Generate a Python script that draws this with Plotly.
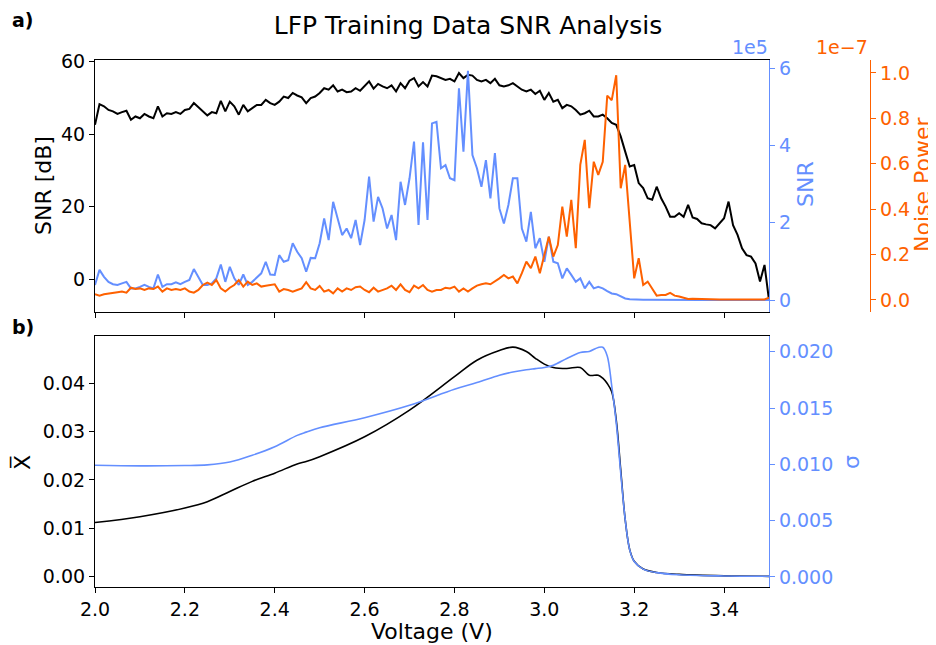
import plotly.graph_objects as go

# ---------------------------------------------------------------
# Datos
# ---------------------------------------------------------------

# Panel a): malla de voltaje (paso de 0.01 V)
voltaje = [round(2.0 + 0.01 * i, 2) for i in range(151)]

# SNR en dB (eje izquierdo)
snr_db = [
    42.6, 48.3, 47.7, 46.7, 46.3, 45.6, 46.1, 46.5, 44.0, 44.9,
    44.4, 45.6, 44.9, 44.4, 47.7, 44.9, 45.8, 45.6, 46.1, 45.6,
    46.7, 47.0, 48.6, 47.4, 46.3, 45.2, 46.1, 45.8, 49.2, 46.3,
    49.0, 47.7, 45.4, 48.1, 46.3, 47.2, 48.1, 48.1, 49.5, 48.6,
    48.1, 49.0, 50.4, 50.0, 51.4, 50.7, 50.2, 48.6, 50.0, 50.4,
    51.4, 52.7, 52.3, 53.5, 51.8, 52.3, 51.6, 51.8, 52.7, 52.0,
    53.2, 54.6, 52.6, 53.9, 53.2, 52.7, 53.5, 51.8, 54.1, 52.7,
    54.8, 55.5, 53.2, 54.4, 53.2, 56.2, 56.0, 55.5, 55.0, 55.3,
    54.6, 56.9, 55.5, 56.4, 56.2, 55.0, 54.6, 55.0, 54.1, 55.3,
    53.5, 53.2, 53.5, 54.1, 53.2, 52.3, 51.8, 52.3, 51.1, 52.0,
    49.5, 51.4, 49.0, 49.5, 47.2, 48.1, 47.7, 46.7, 45.4, 45.8,
    46.5, 44.9, 44.9, 45.4, 44.4, 43.1, 42.6, 39.4, 35.2, 31.1,
    31.5, 26.5, 25.1, 22.3, 21.9, 25.5, 22.3, 20.0, 17.2, 17.2,
    18.2, 17.2, 20.5, 17.0, 16.6, 15.4, 15.1, 14.9, 14.0, 15.4,
    16.8, 21.4, 14.9, 12.2, 8.5, 6.6, 6.2, 4.3, -0.7, 3.9, -5.8,
]

# SNR lineal, en unidades de 1e5 (eje derecho azul)
snr_lineal = [
    0.39, 0.78, 0.60, 0.47, 0.41, 0.39, 0.43, 0.47, 0.30, 0.30,
    0.34, 0.39, 0.34, 0.30, 0.66, 0.34, 0.41, 0.41, 0.46, 0.41,
    0.47, 0.52, 0.80, 0.60, 0.39, 0.39, 0.43, 0.56, 0.92, 0.47,
    0.86, 0.56, 0.39, 0.66, 0.39, 0.47, 0.58, 0.69, 0.99, 0.66,
    0.65, 1.16, 0.99, 1.03, 1.47, 1.25, 1.08, 0.73, 1.09, 1.08,
    1.47, 2.11, 1.55, 2.54, 2.11, 1.68, 1.85, 1.60, 2.07, 1.42,
    2.07, 3.19, 2.03, 2.67, 2.37, 1.85, 2.20, 1.55, 3.06, 2.46,
    3.15, 4.10, 1.94, 4.08, 2.07, 4.57, 4.61, 3.41, 3.49, 3.15,
    3.10, 5.48, 3.84, 5.93, 3.75, 3.41, 2.93, 3.62, 2.63, 3.80,
    2.37, 1.98, 2.46, 3.15, 3.15, 1.85, 1.51, 2.28, 1.34, 1.60,
    0.99, 1.64, 0.99, 0.95, 0.56, 0.82, 0.65, 0.47, 0.56, 0.30,
    0.47, 0.30, 0.34, 0.30, 0.23, 0.17, 0.15, 0.09, 0.04, 0.02,
    0.01, 0.01, 0.005, 0.005, 0.003, 0.003, 0.002, 0.002, 0.002, 0.002,
    0.002, 0.002, 0.002, 0.002, 0.002, 0.002, 0.002, 0.002, 0.002, 0.002,
    0.002, 0.002, 0.002, 0.002, 0.002, 0.002, 0.002, 0.002, 0.002, 0.002, 0.002,
]

# Potencia de ruido, en unidades de 1e-7 (tercer eje naranja)
potencia_ruido = [
    0.025, 0.019, 0.025, 0.029, 0.032, 0.034, 0.037, 0.032, 0.054, 0.048,
    0.051, 0.044, 0.051, 0.048, 0.059, 0.037, 0.051, 0.044, 0.048, 0.044,
    0.051, 0.037, 0.032, 0.044, 0.066, 0.076, 0.066, 0.088, 0.051, 0.037,
    0.054, 0.066, 0.088, 0.059, 0.081, 0.066, 0.073, 0.059, 0.063, 0.066,
    0.069, 0.037, 0.048, 0.044, 0.037, 0.044, 0.051, 0.078, 0.051, 0.044,
    0.062, 0.037, 0.044, 0.029, 0.051, 0.037, 0.051, 0.044, 0.056, 0.059,
    0.044, 0.034, 0.054, 0.037, 0.044, 0.051, 0.063, 0.044, 0.069, 0.044,
    0.034, 0.063, 0.051, 0.066, 0.044, 0.037, 0.044, 0.044, 0.054, 0.051,
    0.059, 0.037, 0.051, 0.037, 0.051, 0.063, 0.069, 0.073, 0.069, 0.081,
    0.095, 0.110, 0.095, 0.103, 0.073, 0.118, 0.169, 0.140, 0.191, 0.118,
    0.198, 0.279, 0.191, 0.242, 0.411, 0.279, 0.441, 0.228, 0.595, 0.705,
    0.404, 0.609, 0.551, 0.609, 0.900, 0.880, 0.990, 0.492, 0.595, 0.360,
    0.095, 0.184, 0.066, 0.081, 0.051, 0.019, 0.022, 0.022, 0.031, 0.019,
    0.015, 0.010, 0.004, 0.005, 0.004, 0.003, 0.003, 0.003, 0.002, 0.002,
    0.002, 0.002, 0.002, 0.002, 0.002, 0.002, 0.002, 0.002, 0.002, 0.002, 0.010,
]

# Panel b): media y desviacion estandar
voltaje_b = [
    2.0, 2.1, 2.2, 2.25, 2.3, 2.35, 2.4, 2.45, 2.47, 2.5, 2.6, 2.7, 2.8,
    2.85, 2.9, 2.93, 2.96, 2.98, 3.0, 3.02, 3.05, 3.08, 3.1, 3.12, 3.13,
    3.14, 3.15, 3.16, 3.17, 3.18, 3.19, 3.2, 3.22, 3.25, 3.3, 3.4, 3.5,
]
media_x = [
    0.0112, 0.0124, 0.0142, 0.0155, 0.0176, 0.0197, 0.0214, 0.0233, 0.0238,
    0.0248, 0.0289, 0.0344, 0.0413, 0.0447, 0.0467, 0.0474, 0.0465, 0.0451,
    0.0439, 0.0432, 0.0430, 0.0432, 0.0416, 0.0416, 0.0410, 0.0399, 0.0382,
    0.0324, 0.0221, 0.0118, 0.0056, 0.0032, 0.0016, 0.0009, 0.0005, 0.0002,
    0.0001,
]
sigma = [
    0.00992, 0.00986, 0.00989, 0.00995, 0.0102, 0.0108, 0.01156, 0.01257,
    0.01286, 0.01325, 0.01414, 0.01524, 0.01667, 0.01726, 0.01791, 0.0182,
    0.0184, 0.0185, 0.0186, 0.0188, 0.0194, 0.01994, 0.02003, 0.02038,
    0.0204, 0.01963, 0.01696, 0.0137, 0.00924, 0.00508, 0.0024, 0.00136,
    0.00069, 0.00038, 0.00019, 0.00008, 0.00005,
]

ticks_voltaje = [2.0, 2.2, 2.4, 2.6, 2.8, 3.0, 3.2, 3.4]

# ---------------------------------------------------------------
# Estilo
# ---------------------------------------------------------------
AZUL = '#648FFF'
NARANJA = '#FE6100'
FUENTE = 'DejaVu Sans'
# la pagina deja 8 px de margen en el body, asi que la figura se achica
MARGEN_PAGINA = 8
ANCHO, ALTO = 936 - MARGEN_PAGINA, 645 - MARGEN_PAGINA


def fx(p):
    """Pixel horizontal de la ventana -> fraccion del papel."""
    return (p - MARGEN_PAGINA) / ANCHO


def fy(p):
    """Pixel vertical de la ventana (desde arriba) -> fraccion del papel."""
    return 1 - (p - MARGEN_PAGINA) / ALTO


dominio_x = [fx(95), fx(769)]
dominio_a = [fy(312), fy(60)]
dominio_b = [fy(587), fy(336)]

eje_comun = dict(
    showgrid=False, zeroline=False, showline=True, linewidth=1.2,
    ticks='outside', ticklen=5, tickwidth=1.2, automargin=False,
    tickfont=dict(family=FUENTE, size=19),
)

fig = go.Figure()

# Panel a)
fig.add_trace(go.Scatter(x=voltaje, y=snr_db, mode='lines',
                         line=dict(color='black', width=2), xaxis='x', yaxis='y'))
fig.add_trace(go.Scatter(x=voltaje, y=snr_lineal, mode='lines',
                         line=dict(color=AZUL, width=2), xaxis='x', yaxis='y2'))
fig.add_trace(go.Scatter(x=voltaje, y=potencia_ruido, mode='lines',
                         line=dict(color=NARANJA, width=2), xaxis='x', yaxis='y3'))

# Panel b)
fig.add_trace(go.Scatter(x=voltaje_b, y=media_x, mode='lines', line_shape='spline',
                         line=dict(color='black', width=1.6), xaxis='x2', yaxis='y4'))
fig.add_trace(go.Scatter(x=voltaje_b, y=sigma, mode='lines', line_shape='spline',
                         line=dict(color=AZUL, width=1.6), xaxis='x2', yaxis='y5'))

fig.update_layout(
    template='none',
    width=ANCHO, height=ALTO,
    margin=dict(l=0, r=0, t=0, b=0),
    paper_bgcolor='white', plot_bgcolor='white',
    showlegend=False,
    font=dict(family=FUENTE, color='black'),
    title=dict(text='LFP Training Data SNR Analysis', x=fx(468), xanchor='center',
               y=fy(25), yanchor='middle', font=dict(family=FUENTE, size=25)),
    xaxis=dict(domain=dominio_x, anchor='y', range=[2.0, 3.5], tickvals=ticks_voltaje,
               showticklabels=False, mirror=True, linecolor='black', tickcolor='black',
               **eje_comun),
    yaxis=dict(domain=dominio_a, anchor='x', range=[-9.1, 60.5], tickvals=[0, 20, 40, 60],
               linecolor='black', tickcolor='black', **eje_comun),
    yaxis2=dict(overlaying='y', side='right', anchor='x', range=[-0.31, 6.21],
                tickvals=[0, 2, 4, 6], color=AZUL, linecolor=AZUL, tickcolor=AZUL,
                **eje_comun),
    yaxis3=dict(overlaying='y', side='right', anchor='free', position=fx(870),
                range=[-0.053, 1.057], tickvals=[0, 0.2, 0.4, 0.6, 0.8, 1.0],
                tickformat='.1f', color=NARANJA, linecolor=NARANJA, tickcolor=NARANJA,
                **eje_comun),
    xaxis2=dict(domain=dominio_x, anchor='y4', range=[2.0, 3.5], tickvals=ticks_voltaje,
                tickformat='.1f', mirror=True, linecolor='black', tickcolor='black',
                **eje_comun),
    yaxis4=dict(domain=dominio_b, anchor='x2', range=[-0.0021, 0.0497],
                tickvals=[0, 0.01, 0.02, 0.03, 0.04], tickformat='.2f',
                linecolor='black', tickcolor='black', **eje_comun),
    yaxis5=dict(overlaying='y4', side='right', anchor='x2', range=[-0.0009, 0.0214],
                tickvals=[0, 0.005, 0.01, 0.015, 0.02], tickformat='.3f',
                color=AZUL, linecolor=AZUL, tickcolor=AZUL, **eje_comun),
)

# Titulos de ejes, etiquetas de panel y factores de escala como anotaciones
anotaciones = [
    dict(text='SNR [dB]', x=fx(43), y=fy(186), textangle=-90, size=22, color='black'),
    dict(text='SNR', x=fx(805), y=fy(184), textangle=-90, size=22, color=AZUL),
    dict(text='Noise Power', x=fx(923), y=fy(185), textangle=-90, size=22, color=NARANJA),
    dict(text='X\u0305', x=fx(22), y=fy(463), textangle=-90, size=22, color='black'),
    dict(text='\u03c3', x=fx(851), y=fy(462), textangle=-90, size=22, color=AZUL),
    dict(text='Voltage (V)', x=fx(432), y=fy(631), textangle=0, size=22, color='black'),
    dict(text='<b>a)</b>', x=fx(23), y=fy(20), textangle=0, size=19, color='black'),
    dict(text='<b>b)</b>', x=fx(23), y=fy(327), textangle=0, size=19, color='black'),
]
for a in anotaciones:
    fig.add_annotation(text=a['text'], x=a['x'], y=a['y'], xref='paper', yref='paper',
                       xanchor='center', yanchor='middle', textangle=a['textangle'],
                       showarrow=False, font=dict(family=FUENTE, size=a['size'], color=a['color']))

fig.add_annotation(text='1e5', x=fx(770), y=fy(47), xref='paper', yref='paper',
                   xanchor='right', yanchor='middle', showarrow=False,
                   font=dict(family=FUENTE, size=19, color=AZUL))
fig.add_annotation(text='1e\u22127', x=fx(870), y=fy(47), xref='paper', yref='paper',
                   xanchor='right', yanchor='middle', showarrow=False,
                   font=dict(family=FUENTE, size=19, color=NARANJA))

fig.write_html("out.html")
